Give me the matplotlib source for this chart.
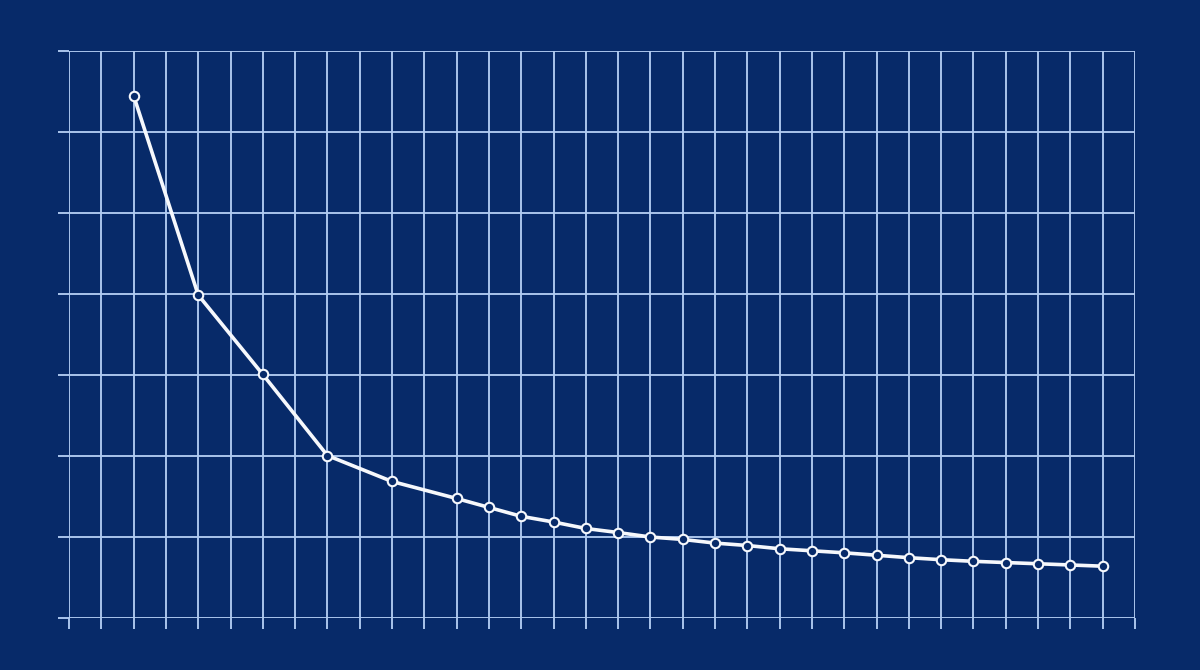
import matplotlib
matplotlib.use("Agg")
import matplotlib.pyplot as plt

# Data
x_values = [2, 4, 6, 8, 10, 12, 13, 14, 15, 16, 17, 18, 19, 20, 21, 22, 23, 24,
            25, 26, 27, 28, 29, 30, 31, 32]
y_values = [6.45, 3.99, 3.01, 2.01, 1.69, 1.48, 1.37, 1.26, 1.19, 1.11, 1.06, 1.005,
            0.975, 0.93, 0.90, 0.86, 0.835, 0.81, 0.78, 0.75, 0.725, 0.705, 0.69,
            0.675, 0.66, 0.645]
x_ticks = list(range(0, 34))
y_ticks = list(range(0, 8))

bg = "#072a69"
grid_c = "#b0cbf1"
line_c = "#f6f8fc"

fig = plt.figure(figsize=(12, 6.7), dpi=100, facecolor=bg)
ax = fig.add_axes([0.0575, 0.0769, 0.8883, 0.847])
ax.set_facecolor(bg)

ax.set_xlim(0, 33)
ax.set_ylim(0, 7)
ax.set_xticks(x_ticks)
ax.set_yticks(y_ticks)
ax.set_xticklabels([])
ax.set_yticklabels([])
ax.grid(True, color=grid_c, linewidth=1.35)
ax.tick_params(axis="both", colors=grid_c, length=8, width=1.35)
for s in ax.spines.values():
    s.set_visible(False)
ax.set_axisbelow(True)

ax.plot(x_values, y_values, color=line_c, linewidth=2.6, marker="o",
        markersize=6.8, markerfacecolor=bg, markeredgecolor=line_c,
        markeredgewidth=1.5, zorder=3, clip_on=False)

fig.savefig("out.png", dpi=100, facecolor=bg)
